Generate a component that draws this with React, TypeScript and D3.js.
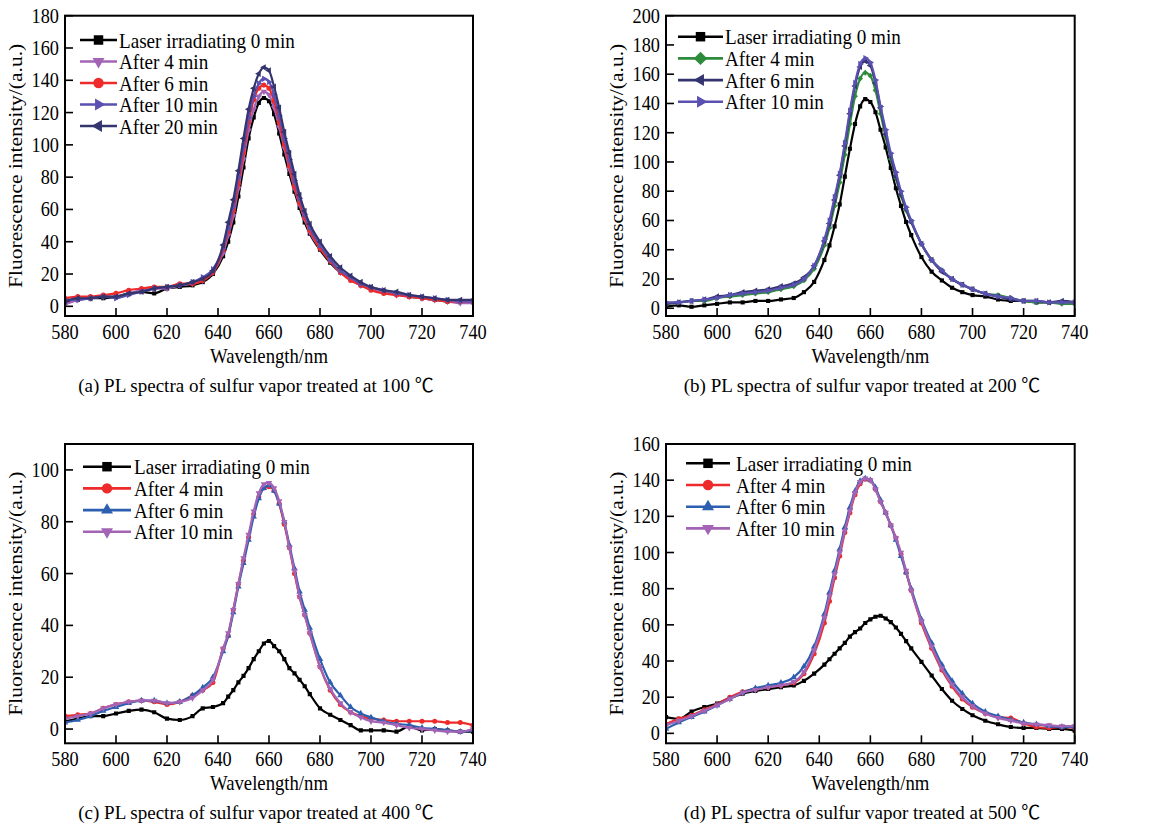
import React from "react";
import * as d3 from "d3";

// Wavelength grid (nm) shared by every spectrum
const WAVELENGTH = [
  580, 585, 590, 595, 600, 605, 610, 615, 620, 625, 630,
  634, 638, 642,
  644, 646, 648, 650, 652, 654, 656, 658, 660, 662, 664, 666, 668, 670, 672, 674, 676,
  680, 684, 688, 692, 696, 700,
  705, 710, 715, 720, 725, 730, 735, 740,
];
const X_TICKS = [580, 600, 620, 640, 660, 680, 700, 720, 740];

// (a) 100 ℃
const A_LASER_0 = [2, 4, 5, 5, 6, 8, 9, 8, 11, 12, 13, 15, 20, 31, 40, 52, 68, 86, 104, 117, 126, 129, 127, 119, 107, 94, 82, 71, 61, 52, 45, 35, 27, 21, 17, 13, 11, 9, 8, 6, 5, 4, 3, 3, 3];
const A_AFTER_4 = [1, 4, 5, 6, 6, 8, 10, 11, 11, 13, 14, 16, 21, 33, 44, 56, 73, 91, 109, 122, 130, 133, 131, 123, 111, 98, 85, 73, 63, 54, 46, 36, 28, 21, 17, 13, 11, 9, 7, 6, 5, 4, 3, 2, 2];
const A_AFTER_6 = [5, 6, 6, 7, 8, 10, 11, 12, 12, 14, 14, 16, 21, 35, 46, 59, 76, 95, 114, 128, 135, 137, 135, 127, 114, 100, 87, 74, 64, 55, 47, 36, 28, 21, 16, 13, 10, 8, 7, 6, 5, 4, 3, 3, 3];
const A_AFTER_10 = [4, 4, 5, 6, 5, 7, 9, 11, 12, 13, 15, 18, 23, 36, 48, 62, 80, 99, 117, 130, 138, 141, 139, 131, 118, 104, 91, 78, 67, 57, 49, 38, 29, 22, 18, 14, 12, 10, 8, 7, 6, 5, 4, 3, 3];
const A_AFTER_20 = [3, 5, 5, 6, 6, 8, 9, 11, 12, 13, 15, 17, 22, 38, 52, 66, 84, 104, 122, 135, 144, 148, 146, 136, 123, 108, 95, 82, 69, 59, 51, 40, 31, 24, 19, 15, 12, 10, 9, 7, 6, 5, 4, 4, 4];

// (b) 200 ℃
const B_LASER_0 = [1, 2, 1, 2, 3, 4, 4, 5, 5, 6, 7, 11, 18, 33, 43, 56, 71, 90, 109, 126, 138, 143, 141, 134, 122, 110, 96, 82, 70, 59, 50, 35, 25, 19, 14, 11, 9, 8, 6, 5, 5, 4, 4, 4, 4];
const B_AFTER_4 = [3, 4, 5, 5, 7, 8, 9, 10, 11, 13, 15, 19, 27, 43, 55, 70, 86, 105, 126, 145, 157, 161, 159, 149, 133, 117, 102, 89, 77, 67, 59, 44, 33, 26, 20, 16, 13, 10, 9, 7, 5, 4, 4, 3, 3];
const B_AFTER_6 = [3, 4, 5, 6, 8, 9, 11, 12, 13, 15, 17, 21, 29, 46, 58, 74, 91, 111, 133, 152, 165, 169, 166, 154, 137, 119, 104, 90, 78, 68, 59, 44, 33, 25, 20, 16, 13, 10, 8, 6, 5, 5, 4, 5, 4];
const B_AFTER_10 = [4, 4, 5, 6, 7, 9, 10, 11, 12, 14, 16, 20, 29, 47, 60, 76, 92, 113, 135, 154, 167, 171, 168, 156, 138, 122, 106, 93, 80, 69, 60, 44, 33, 26, 20, 16, 13, 10, 8, 7, 5, 5, 4, 4, 4];

// (c) 400 ℃
const C_LASER_0 = [3, 4, 5, 5, 6, 7, 7.5, 6.5, 4, 3.5, 5, 8, 8.5, 10, 12.5, 15, 18, 20.5, 23.5, 27, 30, 33, 34, 32, 30, 27, 23.5, 21.5, 19, 16.5, 13.5, 8, 5.5, 3.5, 1.5, -0.5, -0.5, -0.5, -1, 1, -0.5, 0, -0.5, -1, -1];
const C_AFTER_4 = [5, 5.5, 6, 8, 9.5, 10.5, 11, 10.5, 9.5, 10.5, 13, 15, 18, 31, 36, 46, 56, 65, 74, 83, 89.5, 93, 93.5, 92, 87, 79, 70, 60, 51, 44, 37, 24, 15, 9.5, 6.5, 5, 4, 3.5, 3, 3, 3, 3, 2.5, 2.5, 1.5];
const C_AFTER_6 = [2.5, 3.5, 5, 7, 8.5, 10, 11, 11, 10, 10.5, 13, 16, 20, 30, 36, 45, 55, 64, 73, 82, 89, 93, 94, 92, 87, 80, 71, 62, 53, 46, 39, 27, 18, 13, 8.5, 6, 4.5, 3, 2, 1.5, 0.5, 0, -0.5, -1, -0.5];
const C_AFTER_10 = [4, 5, 6, 8, 9.5, 10.5, 11, 11, 10, 10.5, 12, 15, 19, 31, 37, 46, 56, 66, 75, 84, 91, 94.5, 95, 93, 88, 80, 70, 61, 51, 44, 37, 24, 15.5, 10, 6.5, 4.5, 3, 2.5, 1.5, 0.5, 0, -0.5, -1, -1, 0];

// (d) 500 ℃
const D_LASER_0 = [9, 8, 12, 14.5, 16.5, 19.5, 22, 23.5, 24.5, 25.5, 26.5, 29, 33, 38, 41, 44, 47, 50, 53.5, 56, 58, 61, 63, 64.5, 65, 63.5, 61.5, 58.5, 55, 51, 47, 39.5, 32, 24.5, 18, 13.5, 10, 7, 5, 3.5, 3, 3, 2.5, 2.5, 1.5];
const D_AFTER_4 = [5, 8, 10, 13, 16, 20, 23, 24.5, 25.5, 26.5, 28, 33, 44, 61, 73, 86, 98, 111, 122, 132, 138, 140.5, 140, 135, 128, 122, 115, 108, 99, 89, 79, 61, 47, 35, 26, 19, 14.5, 11, 9, 8.5, 5.5, 3.5, 3, 3.5, 3];
const D_AFTER_6 = [2.5, 6, 9, 12, 15.5, 19, 22.5, 25, 26.5, 28, 31, 37, 48, 66, 78, 90, 102, 114, 125, 134, 139.5, 141, 140, 136, 129, 122, 115, 107, 98, 89, 80, 63, 50, 38, 29, 22, 16.5, 12, 9.5, 7.5, 6, 5, 4, 3.5, 3.5];
const D_AFTER_10 = [4.5, 7, 9.5, 12.5, 15.5, 19, 22.5, 24, 25.5, 26.5, 28.5, 34, 46, 64, 76, 88, 100, 112, 123, 133, 139, 141, 140, 135, 128, 122, 115, 108, 100, 90, 79, 62, 48, 36, 27, 20, 15, 11, 8.5, 7, 5.5, 5, 4.5, 4, 4];

const SERIF = '"Liberation Serif", "Times New Roman", serif';
const CAPTION_FONT = '"Liberation Serif", "Times New Roman", "Noto Sans CJK SC", serif';
const SQUEEZE = 0.87; // the source figure is narrowed horizontally

const BLACK = "#000000";
const ORCHID = "#a464b6";
const RED = "#ee2a2a";
const SLATE = "#5a50b2";
const NAVY = "#34346e";
const GREEN = "#2e8b3c";
const BLUE = "#2c5fb0";

type Marker = "square" | "circle" | "diamond" | "up" | "down" | "left" | "right";
type Series = { name: string; values: number[]; color: string; marker: Marker };

type PanelConfig = {
  id: string;
  left: number;
  top: number;
  width: number;
  height: number;
  yDomain: [number, number];
  yTicks: number[];
  series: Series[];
  legend: { x0: number; x1: number; textX: number; y0: number; dy: number };
  caption: string;
  captionX: number;
};

const PANELS: PanelConfig[] = [
  {
    id: "a", left: 65, top: 15.7, width: 408, height: 300.3,
    yDomain: [-6, 180], yTicks: [0, 20, 40, 60, 80, 100, 120, 140, 160, 180],
    series: [
      { name: "Laser irradiating 0 min", values: A_LASER_0, color: BLACK, marker: "square" },
      { name: "After 4 min", values: A_AFTER_4, color: ORCHID, marker: "down" },
      { name: "After 6 min", values: A_AFTER_6, color: RED, marker: "circle" },
      { name: "After 10 min", values: A_AFTER_10, color: SLATE, marker: "right" },
      { name: "After 20 min", values: A_AFTER_20, color: NAVY, marker: "left" },
    ],
    legend: { x0: 80, x1: 117, textX: 119, y0: 40, dy: 21.5 },
    caption: "(a) PL spectra of sulfur vapor treated at 100 ℃",
    captionX: 256,
  },
  {
    id: "b", left: 666, top: 15.7, width: 408.7, height: 300.3,
    yDomain: [-5.3, 200], yTicks: [0, 20, 40, 60, 80, 100, 120, 140, 160, 180, 200],
    series: [
      { name: "Laser irradiating 0 min", values: B_LASER_0, color: BLACK, marker: "square" },
      { name: "After 4 min", values: B_AFTER_4, color: GREEN, marker: "diamond" },
      { name: "After 6 min", values: B_AFTER_6, color: NAVY, marker: "left" },
      { name: "After 10 min", values: B_AFTER_10, color: SLATE, marker: "right" },
    ],
    legend: { x0: 678, x1: 723, textX: 725, y0: 36.7, dy: 21.7 },
    caption: "(b) PL spectra of sulfur vapor treated at 200 ℃",
    captionX: 862,
  },
  {
    id: "c", left: 65, top: 444, width: 408, height: 299.3,
    yDomain: [-5.5, 110], yTicks: [0, 20, 40, 60, 80, 100],
    series: [
      { name: "Laser irradiating 0 min", values: C_LASER_0, color: BLACK, marker: "square" },
      { name: "After 4 min", values: C_AFTER_4, color: RED, marker: "circle" },
      { name: "After 6 min", values: C_AFTER_6, color: BLUE, marker: "up" },
      { name: "After 10 min", values: C_AFTER_10, color: ORCHID, marker: "down" },
    ],
    legend: { x0: 83, x1: 131, textX: 134, y0: 466.7, dy: 21.7 },
    caption: "(c) PL spectra of sulfur vapor treated at 400 ℃",
    captionX: 256,
  },
  {
    id: "d", left: 666, top: 444, width: 408.7, height: 299.3,
    yDomain: [-5.5, 160], yTicks: [0, 20, 40, 60, 80, 100, 120, 140, 160],
    series: [
      { name: "Laser irradiating 0 min", values: D_LASER_0, color: BLACK, marker: "square" },
      { name: "After 4 min", values: D_AFTER_4, color: RED, marker: "circle" },
      { name: "After 6 min", values: D_AFTER_6, color: BLUE, marker: "up" },
      { name: "After 10 min", values: D_AFTER_10, color: ORCHID, marker: "down" },
    ],
    legend: { x0: 686, x1: 730, textX: 736, y0: 463.3, dy: 21.7 },
    caption: "(d) PL spectra of sulfur vapor treated at 500 ℃",
    captionX: 862,
  },
];

// d3 symbol path + rotation for each marker kind
const symbolFor = (kind: Marker, size: number) => {
  const type =
    kind === "square" || kind === "diamond"
      ? d3.symbolSquare
      : kind === "circle"
      ? d3.symbolCircle
      : d3.symbolTriangle;
  return d3.symbol(type, size)() || "";
};
const rotationFor = (kind: Marker) =>
  kind === "diamond" ? 45 : kind === "down" ? 180 : kind === "left" ? -90 : kind === "right" ? 90 : 0;
const sizeFor = (kind: Marker, big: boolean) => {
  if (kind === "circle") return big ? 85 : 20;
  if (kind === "square" || kind === "diamond") return big ? 90 : 17;
  return big ? 62 : 18;
};

// horizontal text, narrowed like the source figure
const Txt = ({ x, y, size, anchor = "start", children }: any) => (
  <text
    transform={`translate(${x},${y}) scale(${SQUEEZE},1)`}
    textAnchor={anchor}
    fontFamily={SERIF}
    fontSize={size}
    fill="#000"
  >
    {children}
  </text>
);

const Panel = ({ cfg }: { cfg: PanelConfig }) => {
  const { left, top, width, height } = cfg;
  const bottom = top + height;
  const x = d3.scaleLinear().domain([580, 740]).range([left, left + width]);
  const y = d3.scaleLinear().domain(cfg.yDomain).range([bottom, top]);
  const line = d3
    .line<number>()
    .x((_, i) => x(WAVELENGTH[i]))
    .y((d) => y(d))
    .curve(d3.curveMonotoneX);

  return (
    <g>
      <defs>
        <clipPath id={`clip-${cfg.id}`}>
          <rect x={left} y={top} width={width} height={height} />
        </clipPath>
      </defs>

      <g clipPath={`url(#clip-${cfg.id})`}>
        {cfg.series.map((s) => {
          const path = symbolFor(s.marker, sizeFor(s.marker, false));
          const rot = rotationFor(s.marker);
          return (
            <g key={s.name}>
              <path d={line(s.values) || ""} fill="none" stroke={s.color} strokeWidth={2.2} strokeLinejoin="round" />
              {s.values.map((v, i) => (
                <path
                  key={i}
                  d={path}
                  fill={s.color}
                  transform={`translate(${x(WAVELENGTH[i])},${y(v)}) rotate(${rot})`}
                />
              ))}
            </g>
          );
        })}
      </g>

      {/* frame */}
      <rect x={left} y={top} width={width} height={height} fill="none" stroke="#000" strokeWidth={2} />

      {/* x ticks (inward) */}
      {X_TICKS.map((t) => (
        <g key={`x${t}`}>
          <line x1={x(t)} x2={x(t)} y1={bottom} y2={bottom - 8} stroke="#000" strokeWidth={1.6} />
          <Txt x={x(t)} y={bottom + 23} size={21} anchor="middle">
            {t}
          </Txt>
        </g>
      ))}

      {/* y ticks (inward) */}
      {cfg.yTicks.map((t) => (
        <g key={`y${t}`}>
          <line x1={left} x2={left + 8} y1={y(t)} y2={y(t)} stroke="#000" strokeWidth={1.6} />
          <Txt x={left - 6} y={y(t) + 7} size={21} anchor="end">
            {t}
          </Txt>
        </g>
      ))}

      {/* axis titles */}
      <Txt x={left + width / 2} y={bottom + 47} size={21.5} anchor="middle">
        Wavelength/nm
      </Txt>
      <text
        transform={`translate(${left - 43},${top + height / 2}) rotate(-90) scale(1,${SQUEEZE})`}
        textAnchor="middle"
        fontFamily={SERIF}
        fontSize={21.5}
        fill="#000"
      >
        Fluorescence intensity/(a.u.)
      </text>

      {/* legend */}
      {cfg.series.map((s, i) => {
        const ly = cfg.legend.y0 + i * cfg.legend.dy;
        const mx = (cfg.legend.x0 + cfg.legend.x1) / 2;
        return (
          <g key={`lg${i}`}>
            <line x1={cfg.legend.x0} x2={cfg.legend.x1} y1={ly} y2={ly} stroke={s.color} strokeWidth={2.6} />
            <path
              d={symbolFor(s.marker, sizeFor(s.marker, true))}
              fill={s.color}
              transform={`translate(${mx},${ly}) rotate(${rotationFor(s.marker)})`}
            />
            <Txt x={cfg.legend.textX} y={ly + 7.5} size={22}>
              {s.name}
            </Txt>
          </g>
        );
      })}

      {/* caption */}
      <text x={cfg.captionX} y={bottom + 76} textAnchor="middle" fontFamily={CAPTION_FONT} fontSize={19} fill="#000">
        {cfg.caption}
      </text>
    </g>
  );
};

export default function App() {
  return (
    <svg
      width={1160}
      height={827}
      viewBox="0 0 1160 827"
      style={{ position: "absolute", left: 0, top: 0, background: "#fff" }}
    >
      <rect x={0} y={0} width={1160} height={827} fill="#fff" />
      {PANELS.map((p) => (
        <Panel key={p.id} cfg={p} />
      ))}
    </svg>
  );
}
